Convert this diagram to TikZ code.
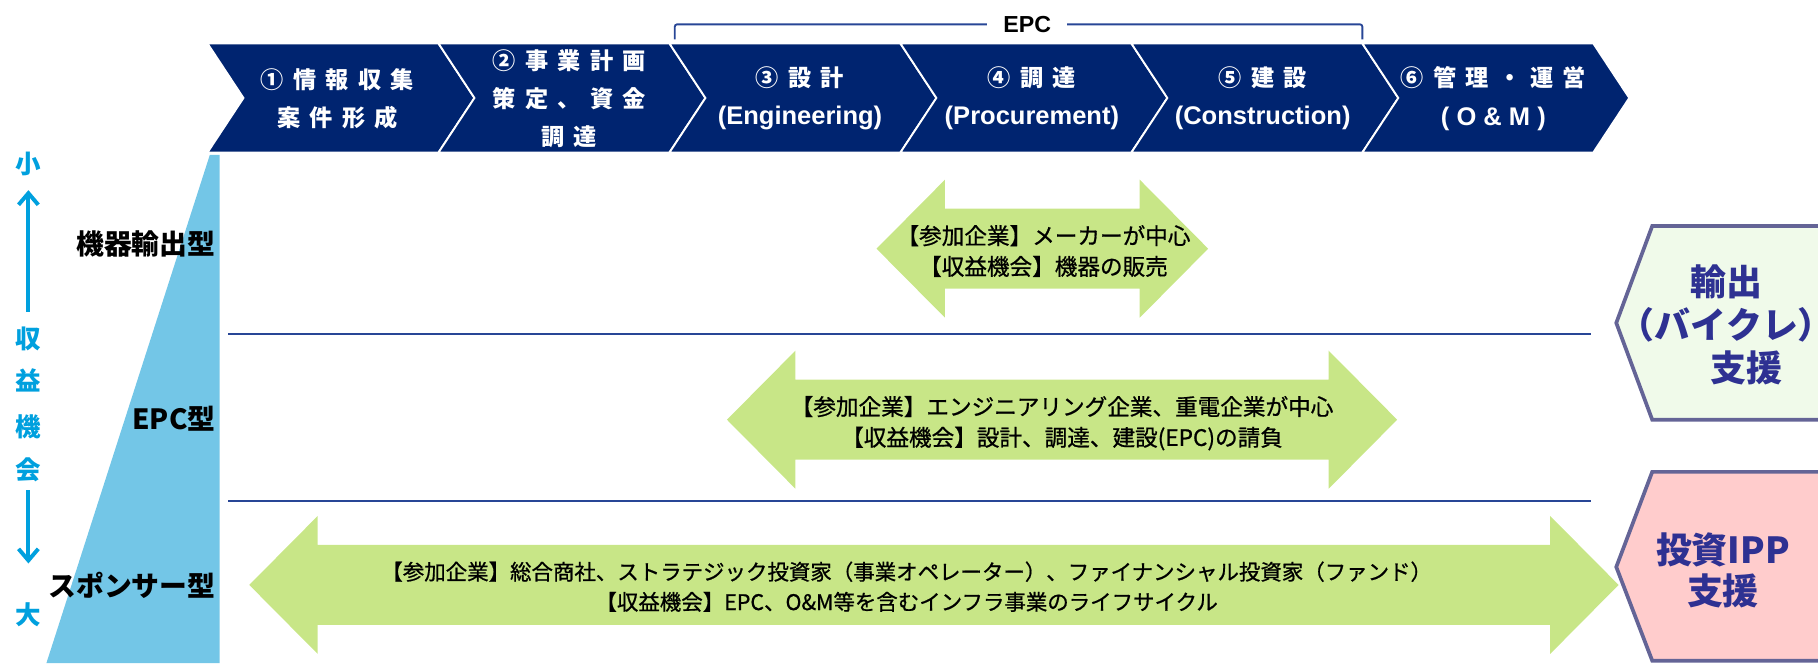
\documentclass[tikz,border=0pt]{standalone}
\usepackage{fontspec}
\usetikzlibrary{arrows.meta}
\newfontfamily\jp{Noto Sans CJK JP}
\newfontfamily\jpmed{Noto Sans CJK JP}[FakeBold=0.8]
\newfontfamily\jptrack{Noto Sans CJK JP}[LetterSpace=40]
\newfontfamily\lat{Liberation Sans}
\definecolor{navy}{RGB}{0,36,112}
\definecolor{linenavy}{RGB}{40,70,150}
\definecolor{skyfill}{RGB}{115,198,231}
\definecolor{axiscyan}{RGB}{0,160,222}
\definecolor{arrowgreen}{RGB}{200,230,135}
\definecolor{boxborder}{RGB}{100,100,150}
\definecolor{boxgreen}{RGB}{240,250,234}
\definecolor{boxpink}{RGB}{255,204,204}
\definecolor{boxtext}{RGB}{46,49,146}
\newcommand\dblarrow[3]{%
  \fill[arrowgreen] (#1,#3) -- (#1+59,#3-59.5) -- (#1+59,#3-34.5) -- (#2-59,#3-34.5) -- (#2-59,#3-59.5) -- (#2,#3) -- (#2-59,#3+59.5) -- (#2-59,#3+34.5) -- (#1+59,#3+34.5) -- (#1+59,#3+59.5) -- cycle;}
\begin{document}
\begin{tikzpicture}[x=1pt,y=-1pt,
  chev/.style={fill=navy, draw=white, line width=1.6pt, line join=miter},
  chevtext/.style={text=white, align=center, inner sep=0pt, font={\jptrack\bfseries\fontsize{20}{33}\selectfont}},
  rowlab/.style={anchor=east, inner sep=0pt, font={\jp\bfseries\fontsize{24}{28}\selectfont}},
  axislab/.style={inner sep=0pt, text=axiscyan, font={\jp\bfseries\fontsize{22}{26}\selectfont}},
  axisarrow/.style={draw=axiscyan, line width=3.4pt, -{Straight Barb[length=10pt,width=17pt]}},
  sepline/.style={draw=linenavy, line width=1.6pt},
  bracket/.style={draw=linenavy, line width=1.6pt, rounded corners=2pt},
  arrtext/.style={align=center, inner sep=0pt, font={\jpmed\fontsize{19.5}{26.5}\selectfont}},
  hexbox/.style={draw=boxborder, line width=3.2pt, line join=miter},
  boxlab/.style={align=center, inner sep=0pt, text=boxtext, font={\jp\bfseries\fontsize{31}{37}\selectfont}}
]
\useasboundingbox (0,0) rectangle (1568,572);
\clip (0,0) rectangle (1568,572);

% left wedge
\fill[skyfill] (181,133.5) -- (189.5,133.5) -- (189.5,572) -- (40,572) -- cycle;

% chevrons
\foreach \i in {0,...,5}{
  \pgfmathsetmacro\L{179+199.2*\i}
  \path[chev] (\L,37.5) -- (\L+199.2,37.5) -- (\L+230.2,84.5) -- (\L+199.2,131.5) -- (\L,131.5) -- (\L+31,84.5) -- cycle;
}
\node[chevtext] (s1) at (291,85) {①情報収集\\案件形成};
\node[chevtext] (s2) at (491,85) {②事業計画\\策定、資金\\調達};
\node[chevtext] (s3) at (690,85) {③設計\\{\lat\fontsize{22}{33}\selectfont (Engineering)}};
\node[chevtext] (s4) at (890,85) {④調達\\{\lat\fontsize{22}{33}\selectfont (Procurement)}};
\node[chevtext] (s5) at (1089,85) {⑤建設\\{\lat\fontsize{22}{33}\selectfont (Construction)}};
\node[chevtext] (s6) at (1288,85) {⑥管理・運営\\{\lat\fontsize{22}{33}\selectfont ( O \& M )}};

% EPC bracket
\draw[bracket] (582,34) -- (582,21) -- (1175,21) -- (1175,34);
\node[fill=white, inner xsep=14pt, inner ysep=2pt, font={\lat\bfseries\fontsize{20}{24}\selectfont}] (epc) at (886,21) {EPC};

% separators
\draw[sepline] (197,288) -- (1372,288);
\draw[sepline] (197,432) -- (1372,432);

% row labels
\node[rowlab] (r1) at (186,210) {機器輸出型};
\node[rowlab] (r2) at (186,361) {EPC型};
\node[rowlab] (r3) at (186,505) {スポンサー型};

% axis
\node[axislab] (small) at (24.5,141) {小};
\node[axislab] (a1) at (24.5,292) {収};
\node[axislab] (a2) at (24.5,328) {益};
\node[axislab] (a3) at (24.5,368) {機};
\node[axislab] (a4) at (24.5,405) {会};
\node[axislab] (big) at (24.5,530) {大};
\draw[axisarrow, shorten <=23pt, shorten >=23pt] (a1.center) -- (small.center);
\draw[axisarrow, shorten <=18pt, shorten >=44pt] (a4.center) -- (big.center);

% green double arrows
\dblarrow{756}{1042}{214.5}
\dblarrow{627}{1205}{362}
\dblarrow{215}{1396}{504.5}
\node[arrtext] (t1) at (900,216.5) {【参加企業】メーカーが中心\\【収益機会】機器の販売};
\node[arrtext] (t2) at (916,365) {【参加企業】エンジニアリング企業、重電企業が中心\\【収益機会】設計、調達、建設(EPC)の請負};
\node[arrtext, font={\jpmed\fontsize{18.5}{26}\selectfont}] (t3) at (782,506) {【参加企業】総合商社、ストラテジック投資家（事業オペレーター）、ファイナンシャル投資家（ファンド）\\【収益機会】EPC、O\&M等を含むインフラ事業のライフサイクル};

% right boxes
\path[hexbox, fill=boxgreen] (1394,278.5) -- (1425,195) -- (1610,195) -- (1610,362) -- (1425,362) -- cycle;
\path[hexbox, fill=boxpink] (1394,489) -- (1425,407) -- (1610,407) -- (1610,569.8) -- (1425,569.8) -- cycle;
\node[boxlab] (bx1) at (1489,280.5) {輸出\\（バイクレ）\\\hspace*{1.1em}支援};
\node[boxlab, font={\jp\bfseries\fontsize{31}{36}\selectfont}] (bx2) at (1486,492) {投資IPP\\支援};
\end{tikzpicture}
\end{document}
